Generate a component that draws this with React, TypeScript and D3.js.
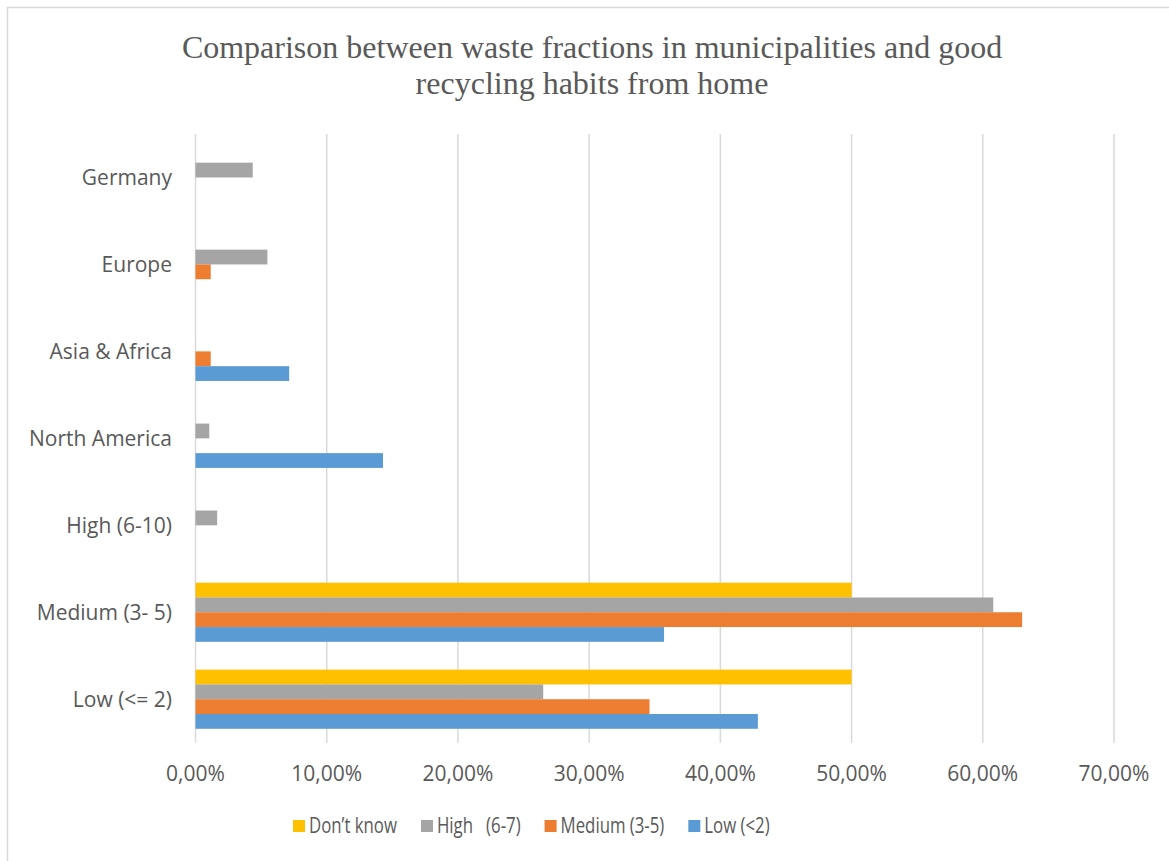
import { useEffect, useRef } from 'react'

import * as d3 from 'd3'

// Categorias (de cima para baixo) e séries
const categories = [
  'Germany',
  'Europe',
  'Asia & Africa',
  'North America',
  'High (6-10)',
  'Medium (3- 5)',
  'Low (<= 2)',
]

const seriesNames = ['Don’t know', 'High   (6-7)', 'Medium (3-5)', 'Low (<2)']

// Valores por série, na ordem das categorias (frações)
const dontKnow = [0, 0, 0, 0, 0, 0.5, 0.5]
const high = [0.0436, 0.0548, 0, 0.0105, 0.0165, 0.608, 0.265]
const medium = [0, 0.0116, 0.0116, 0, 0, 0.63, 0.346]
const low = [0, 0, 0.0714, 0.1429, 0, 0.3571, 0.4286]

const xTicks = [0, 0.1, 0.2, 0.3, 0.4, 0.5, 0.6, 0.7]

const colors = ['#FFC000', '#A5A5A5', '#ED7D31', '#5B9BD5']

const titleLines = [
  'Comparison between waste fractions in municipalities and good',
  'recycling habits from home',
]

const W = 1169
const H = 861
const labelFont = '"Open Sans", Lato, sans-serif'

const App = () => {
  const ref = useRef<SVGSVGElement>(null)

  useEffect(() => {
    const svg = d3.select(ref.current)
    svg.selectAll('*').remove()

    const values = [dontKnow, high, medium, low]

    // Borda do gráfico (só esquerda e topo ficam visíveis)
    svg
      .append('rect')
      .attr('x', 7.5)
      .attr('y', 7.5)
      .attr('width', W + 40)
      .attr('height', H + 40)
      .attr('fill', '#fff')
      .attr('stroke', '#D9D9D9')
      .attr('stroke-width', 1.5)

    // Título
    svg
      .append('g')
      .selectAll('text')
      .data(titleLines)
      .join('text')
      .attr('x', 592)
      .attr('y', (_, i) => 58 + i * 36)
      .attr('text-anchor', 'middle')
      .attr('font-family', '"Liberation Serif", "Times New Roman", serif')
      .attr('font-size', 32)
      .attr('fill', '#595959')
      .text((d) => d)

    const x = d3.scaleLinear().domain([0, 0.7]).range([195.5, 1114])
    const y = d3
      .scaleBand<string>()
      .domain(categories)
      .range([134, 742.7])
      .paddingInner(0.32)
      .paddingOuter(0.16)
    const ySub = d3
      .scaleBand<number>()
      .domain(d3.range(seriesNames.length))
      .range([0, y.bandwidth()])

    const fmt = (v: number) => (v * 100).toFixed(2).replace('.', ',') + '%'

    // Linhas de grade
    svg
      .append('g')
      .selectAll('line')
      .data(xTicks)
      .join('line')
      .attr('x1', (d) => x(d))
      .attr('x2', (d) => x(d))
      .attr('y1', 134)
      .attr('y2', 742.7)
      .attr('stroke', '#D9D9D9')
      .attr('stroke-width', 1.5)

    // Rótulos do eixo X
    svg
      .append('g')
      .selectAll('text')
      .data(xTicks)
      .join('text')
      .attr('x', (d) => x(d))
      .attr('y', 781)
      .attr('text-anchor', 'middle')
      .attr('font-family', labelFont)
      .attr('font-size', 21)
      .attr('fill', '#595959')
      .text(fmt)

    // Rótulos das categorias
    svg
      .append('g')
      .selectAll('text')
      .data(categories)
      .join('text')
      .attr('x', 172)
      .attr('y', (d) => (y(d) as number) + y.bandwidth() / 2)
      .attr('dy', '0.35em')
      .attr('text-anchor', 'end')
      .attr('font-family', labelFont)
      .attr('font-size', 21)
      .attr('fill', '#595959')
      .text((d) => d)

    // Barras
    values.forEach((serie, s) => {
      svg
        .append('g')
        .selectAll('rect')
        .data(serie.map((v, i) => ({ v, c: categories[i] })).filter((d) => d.v > 0))
        .join('rect')
        .attr('x', x(0))
        .attr('y', (d) => (y(d.c) as number) + (ySub(s) as number))
        .attr('width', (d) => x(d.v) - x(0))
        .attr('height', ySub.bandwidth())
        .attr('fill', colors[s])
    })

    // Legenda (texto comprimido na horizontal, como na referência)
    const squeeze = 0.8
    const legend = svg.append('g')
    let cursor = 293
    seriesNames.forEach((name, s) => {
      legend
        .append('rect')
        .attr('x', cursor)
        .attr('y', 820)
        .attr('width', 12)
        .attr('height', 12)
        .attr('fill', colors[s])
      const t = legend
        .append('text')
        .attr('transform', `translate(${cursor + 16},833) scale(${squeeze},1)`)
        .attr('font-family', labelFont)
        .attr('font-size', 21)
        .attr('fill', '#595959')
        .style('white-space', 'pre')
        .text(name)
      const w = (t.node() as SVGTextElement).getComputedTextLength() * squeeze
      cursor += 16 + w + 24
    })
  }, [])

  return (
    <svg
      ref={ref}
      width={W}
      height={H}
      style={{ position: 'absolute', left: 0, top: 0, background: '#fff' }}
    />
  )
}

export default App
